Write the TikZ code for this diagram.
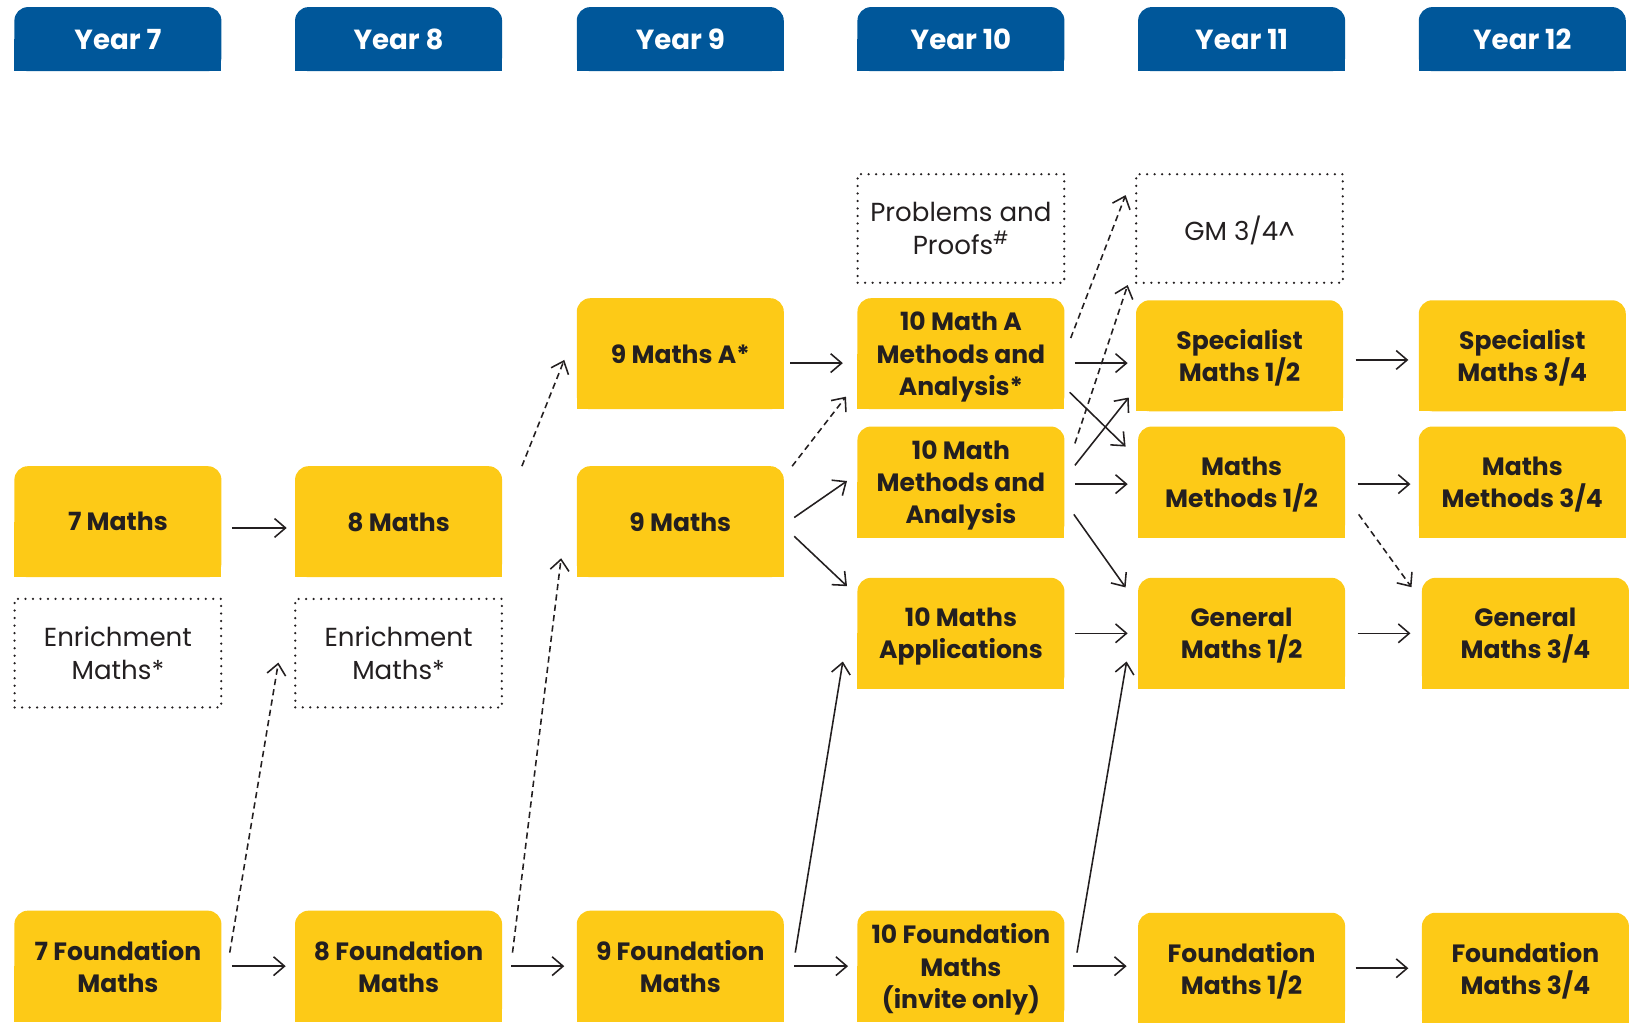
\documentclass[tikz,border=0pt]{standalone}
\usepackage{fontspec}
\setmainfont{Poppins}
\usetikzlibrary{arrows.meta,calc,backgrounds}
\definecolor{ybg}{HTML}{FDCA17}
\definecolor{hblue}{HTML}{00579A}
\definecolor{ink}{HTML}{231F20}
\tikzset{
 ybox/.style={minimum width=198pt, minimum height=106pt, inner sep=0pt, align=center, text=ink, text depth=-5pt, font=\bfseries\fontsize{24}{31}\selectfont},
 hbox/.style={minimum width=198pt, minimum height=61pt, inner sep=0pt, text=white, text depth=-5pt, font=\bfseries\fontsize{26.5}{30}\selectfont},
 dbox/.style={minimum width=198pt, minimum height=104pt, inner sep=0pt, align=center, text=ink, text depth=-4pt, font=\fontsize{25}{31}\selectfont, draw=ink, line width=2.4pt, dash pattern=on 0pt off 7.2pt, line cap=round},
 arr/.style={draw=ink, line width=1.5pt, -{Straight Barb[length=10.5pt,width=18pt]}},
 darr/.style={arr, dash pattern=on 6pt off 4pt},
}
\begin{document}
\begin{tikzpicture}[x=1pt,y=-1pt]
\useasboundingbox (0,0) rectangle (1568,980);
% headers
\node[hbox] (h7) at (113,37.5) {Year 7};
\node[hbox] (h8) at (382,37.5) {Year 8};
\node[hbox] (h9) at (652,37.5) {Year 9};
\node[hbox] (h10) at (921,37.5) {Year 10};
\node[hbox] (h11) at (1190,37.5) {Year 11};
\node[hbox] (h12) at (1459,37.5) {Year 12};
% yellow boxes
\node[ybox] (m7) at (113,500) {7 Maths};
\node[ybox] (m8) at (382,500) {8 Maths};
\node[ybox] (m9a) at (652,339) {9 Maths A*};
\node[ybox] (m9) at (652,500) {9 Maths};
\node[ybox] (m10a) at (921,339) {10 Math A\\Methods and\\Analysis*};
\node[ybox] (m10m) at (921,462) {10 Math\\Methods and\\Analysis};
\node[ybox] (m10ap) at (921,607) {10 Maths\\Applications};
\node[ybox] (sp12) at (1188,341) {Specialist\\Maths 1/2};
\node[ybox] (mm12) at (1190,462) {Maths\\Methods 1/2};
\node[ybox] (gen12) at (1190,607) {General\\Maths 1/2};
\node[ybox] (sp34) at (1459,341) {Specialist\\Maths 3/4};
\node[ybox] (mm34) at (1459,462) {Maths\\Methods 3/4};
\node[ybox] (gen34) at (1462,607) {General\\Maths 3/4};
\node[ybox] (f7) at (113,926) {7 Foundation\\Maths};
\node[ybox] (f8) at (382,926) {8 Foundation\\Maths};
\node[ybox] (f9) at (652,926) {9 Foundation\\Maths};
\node[ybox] (f10) at (921,926) {10 Foundation\\Maths\\(invite only)};
\node[ybox] (f11) at (1190,928) {Foundation\\Maths 1/2};
\node[ybox] (f12) at (1462,928) {Foundation\\Maths 3/4};
% dotted boxes
\node[dbox] (e7) at (113,626) {Enrichment\\Maths*};
\node[dbox] (e8) at (382,626) {Enrichment\\Maths*};
\node[dbox] (pp) at (921,219) {Problems and\\Proofs\textsuperscript{\#}};
\node[dbox] (gm) at (1188,219) {GM 3/4\^{}};
% backgrounds
\begin{scope}[on background layer]
\foreach \n in {h7,h8,h9,h10,h11,h12}{
 \fill[hblue, rounded corners=13pt] (\n.south west) rectangle (\n.north east);
 \fill[hblue] (\n.south west) rectangle (\n.east);
}
\foreach \n in {m7,m8,m9a,m9,m10a,m10m,m10ap,sp12,mm12,gen12,sp34,mm34,gen34,f7,f8,f9,f10,f11,f12}{
 \fill[ybg, rounded corners=13pt] (\n.south west) rectangle (\n.north east);
 \fill[ybg] (\n.south west) rectangle (\n.east);
}
\end{scope}
% solid arrows
\draw[arr] ($(m7.east)+(10,6)$) -- ($(m8.west)+(-8,6)$);
\draw[arr] ($(m9a.east)+(6,9)$) -- ($(m10a.west)+(-14,9)$);
\draw[arr] ($(m9.east)+(10,-4)$) -- ($(m10m.west)+(-10,-1)$);
\draw[arr] ($(m9.east)+(10,14)$) -- ($(m10ap.north west)+(-10,8)$);
\draw[arr] ($(m10a.east)+(10,9)$) -- ($(sp12.west)+(-8,7)$);
\draw[arr] ($(m10a.east)+(5,37)$) -- ($(mm12.west)+(-12,-34)$);
\draw[arr] ($(m10m.east)+(10,-16)$) -- ($(sp12.west)+(-7,40)$);
\draw[arr] ($(m10m.east)+(10,2)$) -- ($(mm12.west)+(-10,2)$);
\draw[arr] ($(m10m.east)+(9,31)$) -- ($(gen12.west)+(-12,-44)$);
\draw[arr] ($(m10ap.east)+(10,0)$) -- ($(gen12.west)+(-10,0)$);
\draw[arr] ($(sp12.east)+(12,4)$) -- ($(sp34.west)+(-10,4)$);
\draw[arr] ($(mm12.east)+(12,2)$) -- ($(mm34.west)+(-8,2)$);
\draw[arr] ($(gen12.east)+(12,0)$) -- ($(gen34.west)+(-11,0)$);
\draw[arr] ($(f7.east)+(10,0)$) -- ($(f8.west)+(-9,0)$);
\draw[arr] ($(f8.east)+(9,0)$) -- ($(f9.west)+(-12,0)$);
\draw[arr] ($(f9.east)+(10,0)$) -- ($(f10.west)+(-9,0)$);
\draw[arr] ($(f10.east)+(8,0)$) -- ($(f11.west)+(-11,-2)$);
\draw[arr] ($(f11.east)+(10,0)$) -- ($(f12.west)+(-13,0)$);
\draw[arr] ($(f9.east)+(11,-13)$) -- ($(m10ap.west)+(-14,27)$);
\draw[arr] ($(f10.east)+(12,-13)$) -- ($(gen12.west)+(-11,27)$);
% dashed arrows
\draw[darr] ($(f7.east)+(8,-13)$) -- ($(e8.west)+(-15,9)$);
\draw[darr] ($(f8.east)+(10,-13)$) -- ($(m9.west)+(-15,35)$);
\draw[darr] ($(m8.north east)+(19,0)$) -- ($(m9a.west)+(-12,6)$);
\draw[darr] ($(m9.north east)+(8,0)$) -- ($(m10a.south west)+(-11,-12)$);
\draw[darr] ($(m10a.east)+(6,-15)$) -- ($(gm.west)+(-9,-32)$);
\draw[darr] ($(m10m.east)+(10,-37)$) -- ($(gm.south west)+(-7,1)$);
\draw[darr] ($(mm12.east)+(13,31)$) -- ($(gen34.north west)+(-10,9)$);
\end{tikzpicture}
\end{document}
